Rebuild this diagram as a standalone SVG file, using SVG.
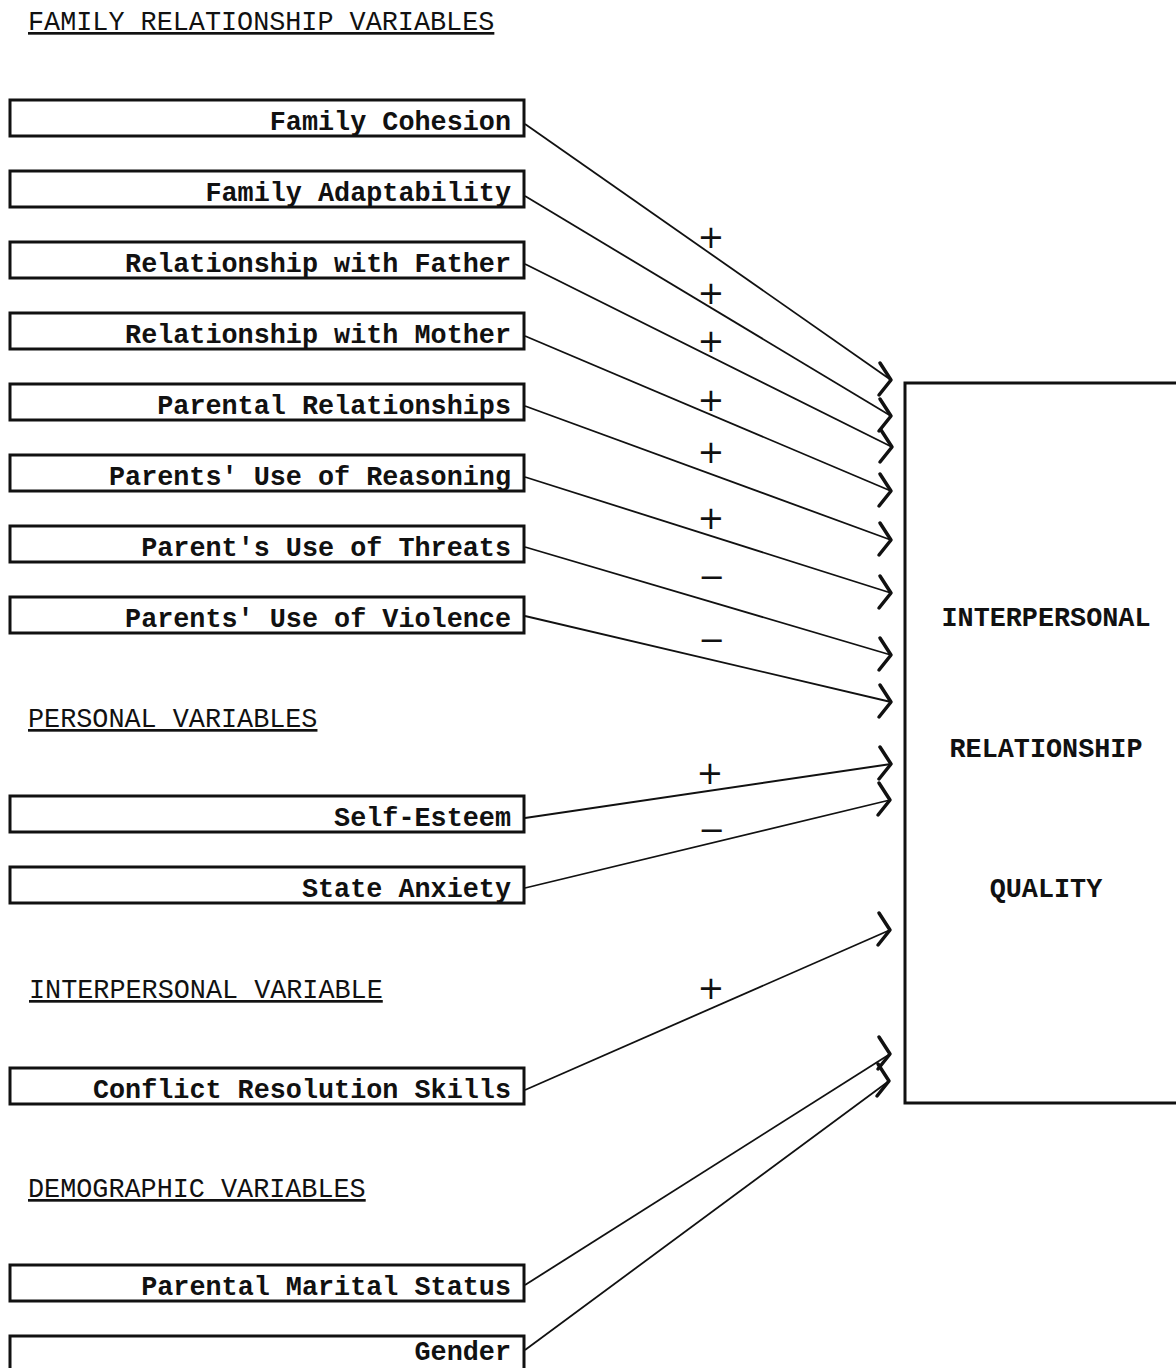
<svg xmlns="http://www.w3.org/2000/svg" width="1176" height="1368" viewBox="0 0 1176 1368">
<style>
.box{fill:#fff;stroke:#111;stroke-width:3}
.lbl{font-family:"Liberation Mono","Courier New",monospace;font-size:26.8px;font-weight:bold;fill:#111;text-anchor:end}
.hdr{font-family:"Liberation Mono","Courier New",monospace;font-size:26.8px;fill:#111;text-decoration:underline}
.big{font-family:"Liberation Mono","Courier New",monospace;font-size:26.8px;font-weight:bold;fill:#111;text-anchor:middle}
.edge{stroke:#111;stroke-width:1.8;fill:none;marker-end:url(#arr)}
.sign{font-family:"DejaVu Sans",sans-serif;font-size:32px;fill:#111;text-anchor:middle}
</style>
<defs>
<marker id="arr" markerUnits="userSpaceOnUse" orient="0" markerWidth="30" markerHeight="40" refX="20" refY="20" viewBox="0 0 30 40">
<path d="M9,3 L20,20 L8,35" fill="none" stroke="#111" stroke-width="3.5" stroke-linecap="round" stroke-linejoin="round"/>
</marker>
</defs>
<rect width="1176" height="1368" fill="#fff"/>

<g id="headers">
<text class="hdr" x="28" y="30">FAMILY RELATIONSHIP VARIABLES</text>
<text class="hdr" x="28" y="727">PERSONAL VARIABLES</text>
<text class="hdr" x="29" y="998">INTERPERSONAL VARIABLE</text>
<text class="hdr" x="28" y="1197">DEMOGRAPHIC VARIABLES</text>
</g>

<g id="n-cohesion"><rect class="box" x="10" y="100" width="514" height="36"/><text class="lbl" x="511" y="130">Family Cohesion</text></g>
<g id="n-adapt"><rect class="box" x="10" y="171" width="514" height="36"/><text class="lbl" x="511" y="201">Family Adaptability</text></g>
<g id="n-father"><rect class="box" x="10" y="242" width="514" height="36"/><text class="lbl" x="511" y="272">Relationship with Father</text></g>
<g id="n-mother"><rect class="box" x="10" y="313" width="514" height="36"/><text class="lbl" x="511" y="343">Relationship with Mother</text></g>
<g id="n-parental"><rect class="box" x="10" y="384" width="514" height="36"/><text class="lbl" x="511" y="414">Parental Relationships</text></g>
<g id="n-reasoning"><rect class="box" x="10" y="455" width="514" height="36"/><text class="lbl" x="511" y="485">Parents' Use of Reasoning</text></g>
<g id="n-threats"><rect class="box" x="10" y="526" width="514" height="36"/><text class="lbl" x="511" y="556">Parent's Use of Threats</text></g>
<g id="n-violence"><rect class="box" x="10" y="597" width="514" height="36"/><text class="lbl" x="511" y="627">Parents' Use of Violence</text></g>
<g id="n-esteem"><rect class="box" x="10" y="796" width="514" height="36"/><text class="lbl" x="511" y="826">Self-Esteem</text></g>
<g id="n-anxiety"><rect class="box" x="10" y="867" width="514" height="36"/><text class="lbl" x="511" y="897">State Anxiety</text></g>
<g id="n-conflict"><rect class="box" x="10" y="1068" width="514" height="36"/><text class="lbl" x="511" y="1098">Conflict Resolution Skills</text></g>
<g id="n-marital"><rect class="box" x="10" y="1265" width="514" height="36"/><text class="lbl" x="511" y="1295">Parental Marital Status</text></g>
<g id="n-gender"><path class="box" d="M10,1368 V1336 H524 V1368"/><text class="lbl" x="511" y="1360">Gender</text></g>

<g id="n-quality"><path class="box" d="M1176,383 H905 V1103 H1176"/>
<text class="big" x="1046" y="626">INTERPERSONAL</text>
<text class="big" x="1046" y="757">RELATIONSHIP</text>
<text class="big" x="1046" y="897">QUALITY</text>
</g>

<g id="connectors">
<line class="edge" x1="525" y1="124" x2="891" y2="380"/>
<line class="edge" x1="525" y1="196" x2="891" y2="416"/>
<line class="edge" x1="525" y1="264" x2="892" y2="447"/>
<line class="edge" x1="525" y1="336" x2="891" y2="491"/>
<line class="edge" x1="525" y1="406" x2="891" y2="540"/>
<line class="edge" x1="525" y1="477" x2="891" y2="593"/>
<line class="edge" x1="525" y1="547" x2="891" y2="655"/>
<line class="edge" x1="525" y1="616" x2="891" y2="702"/>
<line class="edge" x1="525" y1="818" x2="891" y2="764"/>
<line class="edge" x1="525" y1="888" x2="890" y2="800"/>
<line class="edge" x1="525" y1="1090" x2="890" y2="930"/>
<line class="edge" x1="525" y1="1285" x2="890" y2="1054"/>
<line class="edge" x1="525" y1="1350" x2="889" y2="1081"/>
<text class="sign" x="711" y="248">+</text>
<text class="sign" x="711" y="304">+</text>
<text class="sign" x="711" y="352">+</text>
<text class="sign" x="711" y="411">+</text>
<text class="sign" x="711" y="463">+</text>
<text class="sign" x="711" y="529">+</text>
<text class="sign" x="712" y="588">−</text>
<text class="sign" x="712" y="651">−</text>
<text class="sign" x="710" y="784">+</text>
<text class="sign" x="712" y="841">−</text>
<text class="sign" x="711" y="999">+</text>
</g>
</svg>
